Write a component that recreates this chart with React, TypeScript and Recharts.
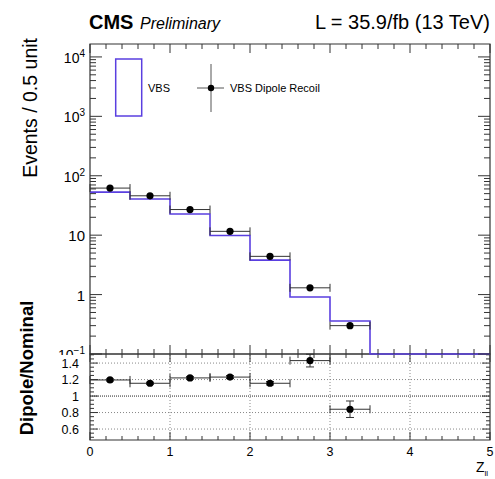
import React from "react"
import {
  ComposedChart,
  Line,
  Scatter,
  ErrorBar,
  XAxis,
  YAxis,
  ReferenceArea,
  ReferenceLine,
  Legend,
} from "recharts"

// histogram bins (Z_ll), 0.5 wide
const binLow = [0, 0.5, 1, 1.5, 2, 2.5, 3, 3.5, 4, 4.5]
const binCenters = [0.25, 0.75, 1.25, 1.75, 2.25, 2.75, 3.25]
const binHalfWidth = [0.25, 0.25, 0.25, 0.25, 0.25, 0.25, 0.25]

// VBS nominal (purple histogram)
const vbsNominal = [53, 40.6, 22.7, 9.9, 3.8, 0.91, 0.36, 0, 0, 0]
// VBS dipole recoil (black points)
const vbsDipole = [62, 46, 27, 11.6, 4.4, 1.3, 0.3]
const vbsDipoleErr = [0.6, 0.5, 0.35, 0.2, 0.1, 0.07, 0.035]

// ratio panel
const ratioValues = [1.195, 1.155, 1.22, 1.23, 1.155, 1.43, 0.84]
const ratioErr = [0.012, 0.012, 0.015, 0.018, 0.02, 0.077, 0.1]

// axis ticks
const xTicks = [
  0, 0.2, 0.4, 0.6, 0.8, 1, 1.2, 1.4, 1.6, 1.8, 2, 2.2, 2.4, 2.6, 2.8, 3, 3.2, 3.4, 3.6, 3.8, 4,
  4.2, 4.4, 4.6, 4.8, 5,
]
const xTickLabels = [0, 1, 2, 3, 4, 5]
const logTicks = [
  0.1, 0.2, 0.3, 0.4, 0.5, 0.6, 0.7, 0.8, 0.9, 1, 2, 3, 4, 5, 6, 7, 8, 9, 10, 20, 30, 40, 50, 60, 70,
  80, 90, 100, 200, 300, 400, 500, 600, 700, 800, 900, 1000, 2000, 3000, 4000, 5000, 6000, 7000,
  8000, 9000, 10000,
]
const logTickLabels = [0.1, 1, 10, 100, 1000, 10000]
const ratioTicks = [
  0.5, 0.55, 0.6, 0.65, 0.7, 0.75, 0.8, 0.85, 0.9, 0.95, 1, 1.05, 1.1, 1.15, 1.2, 1.25, 1.3, 1.35,
  1.4, 1.45, 1.5,
]
const ratioTickLabels = [0.6, 0.8, 1, 1.2, 1.4]
const ratioGridY = [0.6, 0.8, 1.2, 1.4]
const ratioGridX = [1, 2, 3, 4]

const X_DOMAIN = [0, 5]
const Y_DOMAIN = [0.1, 16500]
const RATIO_DOMAIN = [0.467, 1.51]

const W = 495
const PLOT_L = 90
const PLOT_R = 490
const TOP_PLOT_T = 44
const LOW_OFFSET = 280 // page y where lower chart svg starts
const LOW_PLOT_T = 74 // local
const FONT = "'Liberation Sans', Arial, Helvetica, sans-serif"
const PURPLE = "#5a3fe0"
const AXIS = "#333"

const histData = [
  ...binLow.map((x, i) => ({ x, y: Math.max(vbsNominal[i], Y_DOMAIN[0]) })),
  { x: X_DOMAIN[1], y: Y_DOMAIN[0] },
]
const dipoleData = binCenters.map((x, i) => ({
  x,
  y: vbsDipole[i],
  xerr: binHalfWidth[i],
  yerr: vbsDipoleErr[i],
}))
const ratioData = binCenters.map((x, i) => ({
  x,
  y: ratioValues[i],
  xerr: binHalfWidth[i],
  yerr: ratioErr[i],
}))

const near = (v: number, list: number[]) => list.some((t) => Math.abs(t - v) < 1e-6)

const logLabel = (v: number) => {
  if (Math.abs(v - 1) < 1e-9) return <tspan fontSize={15}>1</tspan>
  if (Math.abs(v - 10) < 1e-9) return <tspan fontSize={15}>10</tspan>
  const e = Math.round(Math.log10(v))
  return (
    <>
      <tspan fontSize={14}>10</tspan>
      <tspan fontSize={10} dy={-6}>
        {e < 0 ? "\u2212" + -e : e}
      </tspan>
    </>
  )
}

const TopYTick = (props: any) => {
  const { x, y, payload } = props
  const v = payload.value
  const major = near(v, logTickLabels)
  const len = major ? 12 : 6
  const ax = x + 5
  return (
    <g>
      <line x1={ax} x2={ax + len} y1={y} y2={y} stroke={AXIS} />
      <line x1={PLOT_R} x2={PLOT_R - len} y1={y} y2={y} stroke={AXIS} />
      {major && (
        <text x={x} y={y} dy={6} textAnchor="end" fill="#000" fontFamily={FONT}>
          {logLabel(v)}
        </text>
      )}
    </g>
  )
}

const TopXTick = (props: any) => {
  const { x, y, payload } = props
  const major = near(payload.value, xTickLabels)
  const len = major ? 9 : 5
  return (
    <g>
      <line x1={x} x2={x} y1={y} y2={y - len} stroke={AXIS} />
      <line x1={x} x2={x} y1={TOP_PLOT_T} y2={TOP_PLOT_T + len} stroke={AXIS} />
    </g>
  )
}

const LowYTick = (props: any) => {
  const { x, y, payload } = props
  const v = payload.value
  const major = near(v, ratioTickLabels)
  const len = major ? 8 : 4
  const ax = x + 11
  return (
    <g>
      <line x1={ax} x2={ax + len} y1={y} y2={y} stroke={AXIS} />
      <line x1={PLOT_R} x2={PLOT_R - len} y1={y} y2={y} stroke={AXIS} />
      {major && (
        <text x={x} y={y} dy={4.5} textAnchor="end" fontSize={12.5} fill="#000" fontFamily={FONT}>
          {Math.abs(v - 1) < 1e-9 ? "1" : v.toFixed(1)}
        </text>
      )}
    </g>
  )
}

const LowXTick = (props: any) => {
  const { x, y, payload } = props
  const major = near(payload.value, xTickLabels)
  const len = major ? 8 : 4
  const ay = y - 8
  return (
    <g>
      <line x1={x} x2={x} y1={ay} y2={ay - len} stroke={AXIS} />
      <line x1={x} x2={x} y1={LOW_PLOT_T} y2={LOW_PLOT_T + len} stroke={AXIS} />
      {major && (
        <text x={x} y={y} dy={8} textAnchor="middle" fontSize={12.5} fill="#000" fontFamily={FONT}>
          {payload.value}
        </text>
      )}
    </g>
  )
}

const EventsTitle = () => (
  <text
    x={37}
    y={38}
    transform="rotate(-90, 37, 38)"
    textAnchor="end"
    fontSize={19.5}
    fill="#000"
    fontFamily={FONT}
  >
    Events / 0.5 unit
  </text>
)

const RatioTitle = () => (
  <text
    x={33}
    y={368 - LOW_OFFSET}
    transform={`rotate(-90, 33, ${368 - LOW_OFFSET})`}
    textAnchor="middle"
    fontSize={18.5}
    fontWeight="bold"
    fill="#000"
    fontFamily={FONT}
  >
    Dipole/Nominal
  </text>
)

const ZllTitle = () => (
  <text x={488} y={472 - LOW_OFFSET} textAnchor="end" fontSize={14} fill="#000" fontFamily={FONT}>
    Z
    <tspan fontSize={8} dy={4}>
      ll
    </tspan>
  </text>
)

const LegendBox = () => (
  <svg width={240} height={65} style={{ display: "block" }}>
    <rect x={10.7} y={4} width={26} height={57} fill="none" stroke={PURPLE} strokeWidth={1.5} />
    <text x={43} y={33} dy={4} fontSize={11} fill="#000" fontFamily={FONT}>
      VBS
    </text>
    <line x1={106} x2={106} y1={9} y2={57} stroke="#555" />
    <line x1={92} x2={119} y1={33} y2={33} stroke="#555" />
    <circle cx={106} cy={33} r={3.2} fill="#000" />
    <text x={125} y={33} dy={4} fontSize={11} fill="#000" fontFamily={FONT}>
      VBS Dipole Recoil
    </text>
  </svg>
)

const TopPanel = () => (
  <ComposedChart
    width={W}
    height={355}
    margin={{ top: TOP_PLOT_T, right: W - PLOT_R, bottom: 0, left: 0 }}
  >
    <XAxis
      dataKey="x"
      type="number"
      domain={X_DOMAIN}
      ticks={xTicks}
      interval={0}
      height={1}
      tickSize={0}
      tickMargin={0}
      axisLine={false}
      tickLine={false}
      tick={<TopXTick />}
    />
    <YAxis
      type="number"
      scale="log"
      domain={Y_DOMAIN}
      ticks={logTicks}
      interval={0}
      width={PLOT_L}
      tickSize={0}
      tickMargin={5}
      axisLine={false}
      tickLine={false}
      tick={<TopYTick />}
      label={<EventsTitle />}
    />
    <ReferenceArea
      x1={X_DOMAIN[0]}
      x2={X_DOMAIN[1]}
      y1={Y_DOMAIN[0]}
      y2={Y_DOMAIN[1]}
      fill="none"
      stroke={AXIS}
      strokeWidth={1.2}
      fillOpacity={0}
    />
    <Line
      data={histData}
      dataKey="y"
      type="stepAfter"
      stroke={PURPLE}
      strokeWidth={1.6}
      dot={false}
      isAnimationActive={false}
    />
    <Scatter
      data={dipoleData}
      dataKey="y"
      fill="#000"
      isAnimationActive={false}
      shape={(p: any) => <circle cx={p.cx} cy={p.cy} r={3.6} fill="#000" />}
    >
      <ErrorBar dataKey="xerr" direction="x" width={4} stroke={AXIS} strokeWidth={1} />
      <ErrorBar dataKey="yerr" direction="y" width={0} stroke={AXIS} strokeWidth={1} />
    </Scatter>
    <Legend
      verticalAlign="middle"
      wrapperStyle={{ top: 55, left: 105, width: 240, height: 65 }}
      content={() => <LegendBox />}
    />
  </ComposedChart>
)

const LowerPanel = () => (
  <ComposedChart
    width={W}
    height={479 - LOW_OFFSET}
    margin={{ top: LOW_PLOT_T, right: W - PLOT_R, bottom: 0, left: 0 }}
  >
    <XAxis
      dataKey="x"
      type="number"
      domain={X_DOMAIN}
      allowDataOverflow
      ticks={xTicks}
      interval={0}
      height={39}
      tickSize={0}
      tickMargin={8}
      axisLine={false}
      tickLine={false}
      tick={<LowXTick />}
      label={<ZllTitle />}
    />
    <YAxis
      type="number"
      domain={RATIO_DOMAIN}
      allowDataOverflow
      ticks={ratioTicks}
      interval={0}
      width={PLOT_L}
      tickSize={0}
      tickMargin={11}
      axisLine={false}
      tickLine={false}
      tick={<LowYTick />}
      label={<RatioTitle />}
    />
    {ratioGridY.map((v) => (
      <ReferenceLine key={`gy${v}`} y={v} stroke="#888" strokeDasharray="1 2" />
    ))}
    {ratioGridX.map((v) => (
      <ReferenceLine key={`gx${v}`} x={v} stroke="#888" strokeDasharray="1 2" />
    ))}
    <ReferenceLine y={1} stroke="#222" strokeDasharray="1 1" />
    <ReferenceArea
      x1={X_DOMAIN[0]}
      x2={X_DOMAIN[1]}
      y1={RATIO_DOMAIN[0]}
      y2={RATIO_DOMAIN[1]}
      fill="none"
      fillOpacity={0}
      stroke={AXIS}
      strokeWidth={1.2}
    />
    <Scatter
      data={ratioData}
      dataKey="y"
      fill="#000"
      isAnimationActive={false}
      shape={(p: any) => <circle cx={p.cx} cy={p.cy} r={3.6} fill="#000" />}
    >
      <ErrorBar dataKey="xerr" direction="x" width={4} stroke={AXIS} strokeWidth={1} />
      <ErrorBar dataKey="yerr" direction="y" width={4} stroke={AXIS} strokeWidth={1} />
    </Scatter>
  </ComposedChart>
)

export default function App() {
  return (
    <div
      style={{
        position: "absolute",
        left: 0,
        top: 0,
        width: W,
        height: 479,
        background: "#fff",
        fontFamily: FONT,
        overflow: "hidden",
      }}
    >
      <div style={{ position: "absolute", left: 0, top: LOW_OFFSET }}>
        <LowerPanel />
      </div>
      <div style={{ position: "absolute", left: 0, top: 0 }}>
        <TopPanel />
      </div>
      <div
        style={{
          position: "absolute",
          left: 89,
          top: 12,
          fontSize: 20,
          lineHeight: "20px",
          fontWeight: "bold",
          whiteSpace: "nowrap",
        }}
      >
        CMS
      </div>
      <div
        style={{
          position: "absolute",
          left: 140,
          top: 15.5,
          fontSize: 16,
          lineHeight: "16px",
          fontStyle: "italic",
          whiteSpace: "nowrap",
        }}
      >
        Preliminary
      </div>
      <div
        style={{
          position: "absolute",
          right: 5,
          top: 12,
          fontSize: 20,
          lineHeight: "20px",
          whiteSpace: "nowrap",
        }}
      >
        L = 35.9/fb (13 TeV)
      </div>
    </div>
  )
}
